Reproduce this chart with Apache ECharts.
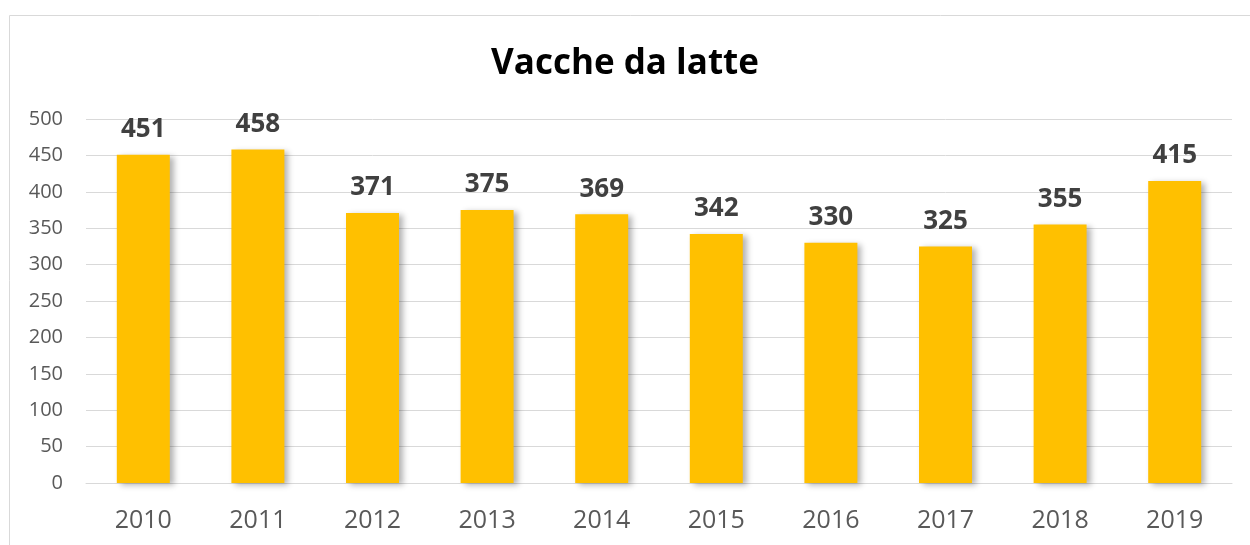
<!DOCTYPE html>
<html>
<head>
<meta charset="utf-8">
<script src="https://cdn.jsdelivr.net/npm/echarts@6/dist/echarts.min.js"></script>
<style>
  html,body{margin:0;padding:0;background:#fff;}
  #chart{width:1250px;height:545px;}
</style>
</head>
<body>
<div id="chart"></div>
<script>
// dati
const anni = ["2010","2011","2012","2013","2014","2015","2016","2017","2018","2019"];
const vacche = [451,458,371,375,369,342,330,325,355,415];
const FONT = "'Open Sans','Liberation Sans',sans-serif";

const chart = echarts.init(document.getElementById("chart"));
chart.setOption({
  animation:false,
  textStyle:{fontFamily:FONT},
  title:{text:"Vacche da latte",left:"center",top:42,
    textStyle:{fontFamily:FONT,fontSize:35,fontWeight:"bold",color:"#000"}},
  graphic:[{type:"rect",shape:{x:9.5,y:15.5,width:1260,height:560},
    style:{fill:"none",stroke:"#d9d9d9",lineWidth:1},silent:true}],
  grid:{left:86,right:18,top:119,bottom:62},
  xAxis:{type:"category",data:anni,
    axisLine:{lineStyle:{color:"#d9d9d9",width:1}},axisTick:{show:false},
    axisLabel:{color:"#595959",fontSize:25,margin:25}},
  yAxis:{type:"value",min:0,max:500,interval:50,
    axisLine:{show:false},axisTick:{show:false},
    axisLabel:{color:"#595959",fontSize:20,margin:23},
    splitLine:{lineStyle:{color:"#d9d9d9",width:1}}},
  series:[{type:"bar",data:vacche,barWidth:53,
    itemStyle:{color:"#ffc000",shadowColor:"rgba(0,0,0,0.3)",shadowBlur:6,shadowOffsetX:4,shadowOffsetY:2},
    label:{show:true,position:"top",distance:12,color:"#404040",fontSize:26,fontWeight:"bold",fontFamily:FONT}}]
});
</script>
</body>
</html>
